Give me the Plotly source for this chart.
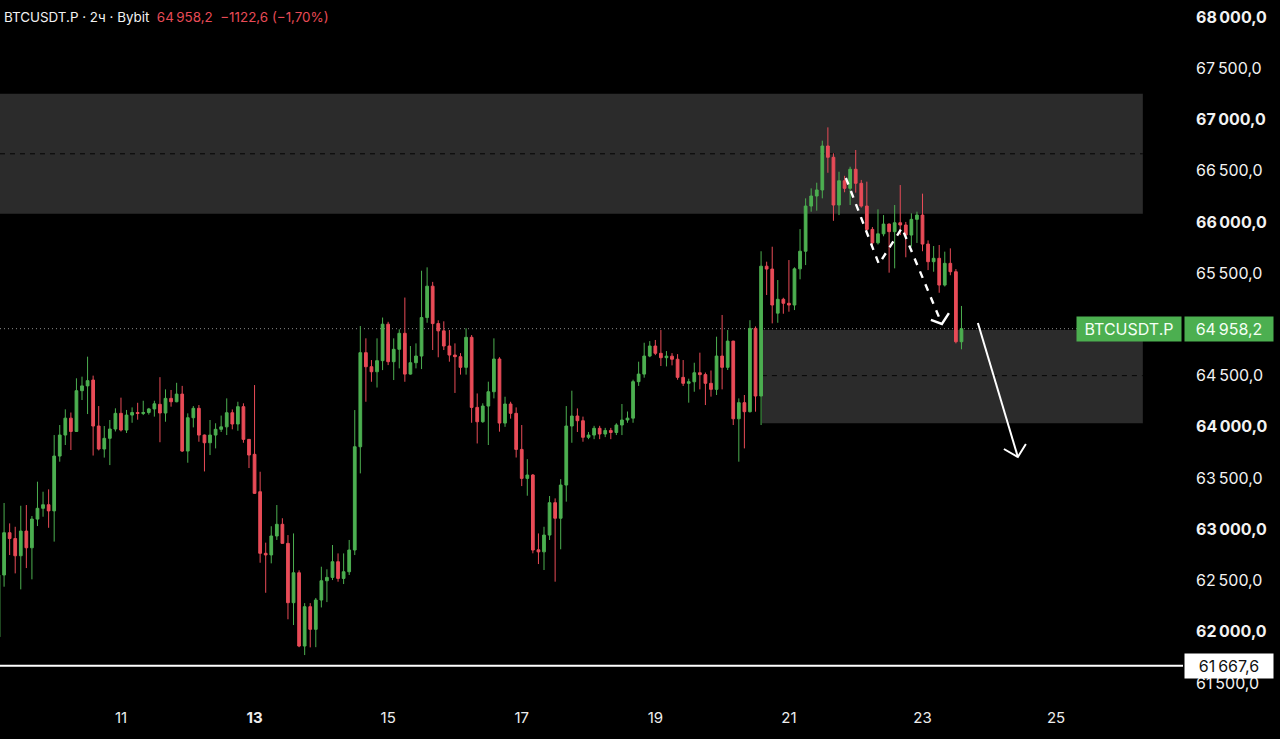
import pandas as pd
import plotly.graph_objects as go

# ── Data (2h candles) ─────────────────────────────────────────────────────────

start_time = "2024-06-09 04:00"

opens = [
    61950, 62554, 62967, 62910, 62742, 62983, 62820, 63100, 63205, 63240,
    63180, 63715, 63920, 64085, 63955, 64353, 64400, 64457, 64008, 63784,
    63888, 63979, 64132, 63969, 64115, 64140, 64130, 64140, 64175, 64220,
    64135, 64278, 64245, 64320, 63764, 64089, 64181, 63920, 63845, 63920,
    63976, 64000, 64138, 64028, 64197, 63878, 63732, 63367, 62766, 62750,
    62935, 63049, 62863, 62284, 62576, 61861, 62245, 62024, 62310, 62498,
    62531, 62684, 62521, 62586, 62798, 63806, 64724, 64587, 64538, 64646,
    65002, 64636, 64757, 64913, 64515, 64626, 64691, 65067, 65373, 65008,
    64937, 64789, 64701, 64685, 64581, 64874, 64190, 64050, 64203, 64343,
    64662, 64037, 64223, 64132, 63780, 63497, 63530, 62800, 62780, 62944,
    63260, 63108, 63432, 64008, 64106, 64060, 63898, 63920, 63986, 63930,
    63965, 63945, 64018, 64067, 64085, 64441, 64515, 64691, 64789, 64718,
    64675, 64690, 64660, 64483, 64425, 64440, 64528, 64510, 64425, 64366,
    64691, 64581, 64837, 64079, 64236, 64148, 64961, 64301, 65568, 65540,
    65110, 65245, 65206, 65189, 65542, 65714, 66155, 66253, 66312, 66741,
    66631, 66165, 66402, 66328, 66514, 66377, 66155, 65927, 65796, 65884,
    65979, 65905, 65992, 65970, 65872, 66025, 66067, 65784, 65612, 65645,
    65384, 65596, 65514, 64831,
]
highs = [
    62600, 63257, 63058, 63025, 63230, 63237, 63130, 63465, 63367, 63390,
    63920, 64018, 64171, 64140, 64474, 64490, 64685, 64500, 64203, 64008,
    64067, 64181, 64285, 64165, 64190, 64235, 64255, 64185, 64255, 64485,
    64366, 64360, 64430, 64400, 64132, 64203, 64213, 63925, 64067, 64035,
    64110, 64278, 64170, 64245, 64230, 63880, 64408, 63562, 62870, 63030,
    63237, 63108, 62944, 62960, 62600, 62280, 62280, 62330, 62635, 62610,
    62847, 62765, 62765, 62896, 64164, 64984, 64864, 64652, 64864, 65067,
    65025, 64864, 64952, 65262, 64789, 64815, 65524, 65557, 65415, 65040,
    65030, 64945, 64815, 64720, 64962, 64896, 64326, 64230, 64441, 64864,
    64680, 64294, 64245, 64190, 64018, 63685, 63540, 62960, 63025, 63325,
    63302, 63490, 64203, 64353, 64180, 64100, 63950, 64010, 64010, 63990,
    63990, 64035, 64223, 64150, 64460, 64636, 64821, 64837, 64848, 64945,
    64740, 64720, 64710, 64652, 64470, 64626, 64724, 64530, 64550, 64880,
    65092, 64945, 64840, 64278, 64311, 65041, 64980, 65714, 65612, 65758,
    65433, 65260, 65628, 65557, 65930, 66230, 66328, 66383, 66793, 66923,
    66670, 66490, 66450, 66539, 66702, 66410, 66393, 65950, 66123, 66067,
    65985, 66165, 66360, 66000, 66084, 66100, 66276, 65820, 65765, 65775,
    65710, 65742, 65540, 65180,
]
lows = [
    61900, 62440, 62749, 62570, 62414, 62622, 62512, 63032, 63123, 63015,
    62880, 63660, 63823, 63774, 63950, 64262, 64125, 63720, 63770, 63700,
    63627, 63955, 63955, 63940, 64040, 64070, 64115, 64120, 64100, 63850,
    64050, 64197, 64240, 63755, 63650, 63995, 63855, 63565, 63725, 63790,
    63950, 63920, 63976, 63962, 63845, 63598, 63345, 62674, 62381, 62668,
    62896, 62860, 62122, 62066, 61850, 61773, 61848, 61850, 62238, 62290,
    62505, 62489, 62466, 62554, 62749, 63546, 64245, 64440, 64384, 64554,
    64603, 64457, 64571, 64440, 64510, 64571, 64564, 65016, 64750, 64679,
    64750, 64636, 64331, 64510, 64510, 64040, 63838, 64040, 63823, 64278,
    63953, 64000, 64080, 63701, 63422, 63328, 62766, 62661, 62603, 62896,
    62489, 62805, 63270, 63845, 63950, 63855, 63880, 63880, 63880, 63900,
    63880, 63920, 63920, 64040, 64040, 64400, 64480, 64680, 64700, 64594,
    64590, 64600, 64460, 64399, 64236, 64343, 64366, 64213, 64295, 64311,
    64366, 64555, 64018, 63660, 63790, 64140, 64148, 64018, 65287, 65010,
    65016, 65104, 65124, 65140, 65440, 65579, 66100, 66110, 66230, 66480,
    66011, 66067, 66290, 66165, 66286, 66140, 65915, 65760, 65780, 65860,
    65505, 65547, 65872, 65655, 65758, 65795, 65714, 65530, 65514, 65309,
    65370, 65480, 64815, 64757,
]
closes = [
    62554, 62967, 62910, 62742, 62983, 62820, 63100, 63205, 63240, 63180,
    63715, 63920, 64085, 63955, 64353, 64400, 64451, 64008, 63784, 63888,
    63979, 64132, 63969, 64115, 64140, 64130, 64140, 64175, 64225, 64135,
    64278, 64245, 64320, 63764, 64089, 64181, 63920, 63845, 63920, 63976,
    64000, 64138, 64028, 64197, 63878, 63725, 63351, 62766, 62750, 62935,
    63049, 62863, 62284, 62576, 61861, 62245, 62024, 62310, 62498, 62531,
    62684, 62521, 62586, 62798, 63806, 64724, 64587, 64538, 64646, 65002,
    64636, 64757, 64913, 64515, 64626, 64691, 65067, 65373, 65008, 64937,
    64789, 64701, 64685, 64581, 64874, 64190, 64050, 64203, 64343, 64662,
    64037, 64223, 64132, 63780, 63497, 63530, 62798, 62780, 62944, 63260,
    63108, 63432, 64008, 64106, 64060, 63898, 63920, 63986, 63930, 63965,
    63945, 64018, 64067, 64085, 64441, 64515, 64691, 64789, 64718, 64675,
    64690, 64660, 64483, 64425, 64440, 64528, 64510, 64425, 64366, 64691,
    64581, 64837, 64079, 64236, 64148, 64961, 64301, 65568, 65540, 65189,
    65245, 65206, 65189, 65542, 65714, 66155, 66253, 66312, 66741, 66631,
    66165, 66402, 66328, 66514, 66377, 66155, 65927, 65796, 65884, 65979,
    65905, 65992, 65970, 65872, 66025, 66067, 65784, 65612, 65645, 65384,
    65596, 65514, 64831, 64958.2,
]

last_price = 64958.2
level_price = 61667.6

# supply / demand zones: (start, end, top, bottom, mid)
zone_upper = ("2024-06-09 04:00", "2024-06-26 07:10", 67250, 66080, 66665)
zone_lower = ("2024-06-20 14:18", "2024-06-26 07:10", 64945, 64035, 64500)

# hand-drawn arrows
dash_path_t = ["2024-06-21 20:28", "2024-06-22 08:20", "2024-06-22 16:36", "2024-06-23 06:58"]
dash_path_p = [66429, 65589, 65941, 65004]
dash_head_t = ["2024-06-23 03:01", "2024-06-23 06:58", "2024-06-23 09:29"]
dash_head_p = [65043, 65004, 65111]
arrow_t = ["2024-06-23 19:54", "2024-06-24 10:16"]
arrow_p = [65013, 63706]
arrow_head_t = ["2024-06-24 05:15", "2024-06-24 10:16", "2024-06-24 13:09"]
arrow_head_p = [63784, 63706, 63832]

tick_days = ["2024-06-11", "2024-06-13", "2024-06-15", "2024-06-17",
             "2024-06-19", "2024-06-21", "2024-06-23", "2024-06-25"]
tick_day_labels = ["11", "<b>13</b>", "15", "17", "19", "21", "23", "25"]
# 65 000 sits under the last-price label, so it is not drawn
price_ticks = [61500, 62000, 62500, 63000, 63500, 64000, 64500,
               65500, 66000, 66500, 67000, 67500, 68000]

UP = "#4caf50"
DOWN = "#e84b57"
FONT = "Inter, Roboto, sans-serif"


def fmt_price(v, dec=1):
    s = f"{v:,.{dec}f}".replace(",", "\u2009").replace(".", ",")
    return s


times = pd.date_range(start_time, periods=len(closes), freq="2h")

fig = go.Figure()

fig.add_trace(go.Candlestick(
    x=times, open=opens, high=highs, low=lows, close=closes,
    increasing=dict(line=dict(color=UP, width=1), fillcolor=UP),
    decreasing=dict(line=dict(color=DOWN, width=1), fillcolor=DOWN),
    whiskerwidth=0,
    hoverinfo="skip",
    showlegend=False,
))

# dashed zig-zag arrow
fig.add_trace(go.Scatter(
    x=dash_path_t, y=dash_path_p, mode="lines",
    line=dict(color="white", width=2.4, dash="7px,7px"),
    hoverinfo="skip", showlegend=False,
))
fig.add_trace(go.Scatter(
    x=dash_head_t, y=dash_head_p, mode="lines",
    line=dict(color="white", width=2.4),
    hoverinfo="skip", showlegend=False,
))
# solid projection arrow
fig.add_trace(go.Scatter(
    x=arrow_t, y=arrow_p, mode="lines",
    line=dict(color="white", width=2),
    hoverinfo="skip", showlegend=False,
))
fig.add_trace(go.Scatter(
    x=arrow_head_t, y=arrow_head_p, mode="lines",
    line=dict(color="white", width=2),
    hoverinfo="skip", showlegend=False,
))

x_range = ["2024-06-09 04:32", "2024-06-26 21:36"]

shapes = []
for z in (zone_upper, zone_lower):
    x0 = z[0] if z is zone_lower else x_range[0]
    shapes.append(dict(type="rect", xref="x", yref="y", x0=x0, x1=z[1],
                       y0=z[3], y1=z[2], fillcolor="#2b2b2b",
                       line=dict(width=0), layer="below"))
    shapes.append(dict(type="line", xref="x", yref="y", x0=x0, x1=z[1],
                       y0=z[4], y1=z[4], layer="below",
                       line=dict(color="#050505", width=1, dash="5px,5px")))

shapes.append(dict(type="line", xref="paper", yref="y", x0=0, x1=1,
                   y0=last_price, y1=last_price, layer="below",
                   line=dict(color="#8c8c8c", width=1, dash="1px,3px")))
shapes.append(dict(type="line", xref="paper", yref="y", x0=0, x1=1,
                   y0=level_price, y1=level_price,
                   line=dict(color="white", width=2)))

annotations = [
    dict(xref="paper", yref="paper", x=0, y=1, xanchor="left", yanchor="top",
         xshift=2, yshift=-7, showarrow=False, align="left",
         font=dict(family=FONT, size=13.4, color="#f2f2f2"),
         text=("BTCUSDT.P · 2ч · Bybit  "
               f"<span style='color:{DOWN}'>{fmt_price(last_price)}  "
               "−1122,6 (−1,70%)</span>")),
    dict(xref="paper", yref="y", x=1, y=last_price, xanchor="right",
         yanchor="middle", xshift=-1, showarrow=False,
         text="BTCUSDT.P", bgcolor=UP, width=100, height=20, borderpad=2,
         font=dict(family=FONT, size=16, color="#f4fff4")),
    dict(xref="paper", yref="y", x=1, y=last_price, xanchor="left",
         yanchor="middle", xshift=1, showarrow=False,
         text=fmt_price(last_price), bgcolor=UP, width=84, height=20,
         borderpad=2, font=dict(family=FONT, size=16, color="#f4fff4")),
    dict(xref="paper", yref="y", x=1, y=level_price, xanchor="left",
         yanchor="middle", xshift=1, showarrow=False,
         text=fmt_price(level_price), bgcolor="white", width=84, height=20,
         borderpad=2, font=dict(family=FONT, size=16, color="#111111")),
]

tick_text = [f"<b>{fmt_price(v)}</b>" if v % 1000 == 0 else fmt_price(v)
             for v in price_ticks]

fig.update_layout(
    width=1280, height=739,
    paper_bgcolor="black", plot_bgcolor="black",
    margin=dict(l=0, r=97, t=0, b=32),
    shapes=shapes, annotations=annotations,
    font=dict(family=FONT, color="#f2f2f2"),
    xaxis=dict(
        range=x_range, rangeslider=dict(visible=False),
        showgrid=False, zeroline=False, showline=False,
        tickvals=tick_days, ticktext=tick_day_labels,
        tickfont=dict(family=FONT, size=15, color="#ededed"),
        ticks="",
    ),
    yaxis=dict(
        side="right", range=[61266, 68166],
        showgrid=False, zeroline=False, showline=False,
        tickvals=price_ticks, ticktext=tick_text,
        tickfont=dict(family=FONT, size=16, color="#f2f2f2"),
        ticks="", ticklabelstandoff=12,
    ),
)

fig.write_html(
    "out.html",
    config={"displayModeBar": False},
    post_script="document.body.style.margin='0';"
                "document.body.style.overflow='hidden';",
)
